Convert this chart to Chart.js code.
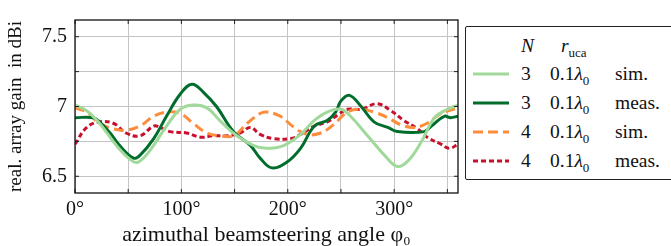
<!DOCTYPE html>
<html>
<head>
<meta charset="utf-8">
<script src="https://cdn.jsdelivr.net/npm/chart.js@4.4.1/dist/chart.umd.min.js"></script>
<style>
  body { margin: 0; background: #fff; font-family: "Liberation Serif", "Times New Roman", serif; }
  #wrap { position: relative; width: 671px; height: 246px; overflow: hidden; }
  #plot { position: absolute; left: 0; top: 0; width: 460px; height: 246px; }
  #legend { position: absolute; left: 465px; top: 26px; width: 220px; height: 154px;
            border: 1.3px solid #222; border-radius: 2px; box-sizing: border-box;
            font-family: "Liberation Serif", "Times New Roman", serif; font-size: 19.5px; color: #111; }
  .row { position: absolute; left: 0; height: 22px; line-height: 22px; }
  .smp { position: absolute; left: 7px; top: 6px; }
  .c1 { position: absolute; left: 55px; }
  .c2 { position: absolute; left: 84px; white-space: nowrap; }
  .c3 { position: absolute; left: 149px; }
  sub { font-size: 13px; }
</style>
</head>
<body>
<div id="wrap">
  <div id="plot"><canvas id="chart"></canvas></div>
  <div id="legend"></div>
</div>
<script>
// angle (deg) / gain (dBi)
const sim3X = [0, 11, 23, 39, 52, 59, 70, 86, 99, 111, 124, 136, 152, 168, 180, 196, 212, 225, 237, 250, 259, 275, 291, 303, 313, 325, 338, 350, 360];
const sim3Y = [7.01, 6.97, 6.88, 6.72, 6.62, 6.60, 6.68, 6.86, 6.98, 7.01, 6.99, 6.90, 6.79, 6.72, 6.70, 6.72, 6.80, 6.90, 6.96, 6.98, 6.93, 6.79, 6.65, 6.57, 6.61, 6.74, 6.92, 6.98, 7.01];

const meas3X = [0, 17, 23, 33, 42, 55, 61, 74, 86, 99, 110, 121, 133, 149, 165, 174, 185, 199, 212, 225, 237, 245, 250, 258, 269, 281, 294, 303, 328, 335, 347, 353, 360];
const meas3Y = [6.92, 6.92, 6.89, 6.81, 6.72, 6.63, 6.65, 6.77, 6.93, 7.09, 7.16, 7.10, 7.00, 6.82, 6.72, 6.63, 6.56, 6.60, 6.70, 6.86, 6.90, 6.96, 7.04, 7.08, 7.00, 6.89, 6.85, 6.82, 6.82, 6.86, 6.93, 6.92, 6.93];

const sim4X = [0, 11, 23, 36, 48, 61, 74, 86, 99, 111, 124, 136, 149, 162, 174, 180, 193, 206, 218, 231, 243, 256, 269, 281, 294, 306, 319, 331, 344, 360];
const sim4Y = [6.99, 6.96, 6.88, 6.84, 6.83, 6.86, 6.93, 6.96, 6.95, 6.88, 6.81, 6.79, 6.79, 6.88, 6.95, 6.96, 6.93, 6.85, 6.80, 6.81, 6.87, 6.96, 6.98, 6.96, 6.92, 6.87, 6.85, 6.88, 6.95, 6.99];

const meas4X = [0, 11, 23, 36, 48, 61, 74, 80, 89, 105, 118, 130, 143, 155, 165, 174, 187, 203, 212, 225, 237, 247, 256, 269, 284, 297, 309, 322, 331, 344, 352, 360];
const meas4Y = [6.73, 6.85, 6.89, 6.88, 6.81, 6.79, 6.86, 6.85, 6.82, 6.81, 6.78, 6.79, 6.79, 6.81, 6.85, 6.80, 6.77, 6.77, 6.80, 6.86, 6.89, 6.94, 6.98, 6.98, 7.02, 6.97, 6.90, 6.84, 6.78, 6.73, 6.70, 6.73];

const xGrid = [0, 50, 100, 150, 200, 250, 300, 350];
const xTicks = [0, 100, 200, 300];
const yGrid = [6.5, 6.75, 7, 7.25, 7.5];
const yTicks = [6.5, 7, 7.5];

const series = [
  { n: '3', kind: 'sim.', x: sim3X, y: sim3Y, color: '#a1d99b', dash: [] },
  { n: '3', kind: 'meas.', x: meas3X, y: meas3Y, color: '#006d2c', dash: [] },
  { n: '4', kind: 'sim.', x: sim4X, y: sim4Y, color: '#fd8d3c', dash: [10, 5] },
  { n: '4', kind: 'meas.', x: meas4X, y: meas4Y, color: '#c8102e', dash: [5, 3] }
];

const serif = '"Liberation Serif", "Times New Roman", serif';

// axis box with small inward tick marks, pgfplots style
const frame = {
  id: 'frame',
  afterDraw(chart) {
    const a = chart.chartArea, c = chart.ctx;
    const sx = chart.scales.x, sy = chart.scales.y;
    c.save();
    c.strokeStyle = '#222';
    c.lineWidth = 1;
    c.beginPath();
    xGrid.forEach(v => {
      const px = sx.getPixelForValue(v);
      c.moveTo(px, a.bottom); c.lineTo(px, a.bottom - 4);
      c.moveTo(px, a.top); c.lineTo(px, a.top + 4);
    });
    yGrid.forEach(v => {
      const py = sy.getPixelForValue(v);
      c.moveTo(a.left, py); c.lineTo(a.left + 4, py);
      c.moveTo(a.right, py); c.lineTo(a.right - 4, py);
    });
    c.stroke();
    c.strokeStyle = '#111';
    c.lineWidth = 1.3;
    c.strokeRect(a.left, a.top, a.right - a.left, a.bottom - a.top);
    c.restore();
  }
};

new Chart(document.getElementById('chart'), {
  type: 'line',
  data: {
    datasets: series.map(s => ({
      label: s.n + ' ' + s.kind,
      data: s.x.map((v, i) => ({ x: v, y: s.y[i] })),
      borderColor: s.color,
      borderWidth: 3,
      borderDash: s.dash,
      pointRadius: 0,
      tension: 0.4,
      fill: false
    }))
  },
  options: {
    responsive: true,
    maintainAspectRatio: false,
    animation: false,
    layout: { padding: { top: 12, right: 2, left: 0, bottom: 0 } },
    plugins: { legend: { display: false }, tooltip: { enabled: false } },
    scales: {
      x: {
        type: 'linear', min: 0, max: 360,
        afterBuildTicks: s => { s.ticks = xGrid.map(v => ({ value: v })); },
        afterFit: s => { s.height = 53; },
        grid: { color: '#c4c4c4', drawTicks: false },
        border: { display: false },
        ticks: {
          padding: 5, color: '#111', maxRotation: 0, autoSkip: false,
          font: { family: serif, size: 20 },
          callback: v => xTicks.includes(v) ? v + '°' : ''
        },
        title: {
          display: true, text: 'azimuthal beamsteering angle φ₀', color: '#111',
          font: { family: serif, size: 22, lineHeight: 1 }, padding: { top: 0, bottom: 0 }
        }
      },
      y: {
        min: 6.38, max: 7.62,
        afterBuildTicks: s => { s.ticks = yGrid.map(v => ({ value: v })); },
        afterFit: s => { s.width = 75; },
        grid: { color: '#c4c4c4', drawTicks: false },
        border: { display: false },
        ticks: {
          padding: 8, color: '#111', autoSkip: false,
          font: { family: serif, size: 20 },
          callback: v => yTicks.includes(v) ? String(v) : ''
        },
        title: {
          display: true, text: 'real. array gain  in dBi', color: '#111',
          font: { family: serif, size: 19, lineHeight: 1 }, padding: { top: 7, bottom: 0 }
        }
      }
    }
  },
  plugins: [frame]
});

// legend as a small table
const lg = document.getElementById('legend');
let html = '<div class="row" style="top:8px"><span class="c1" style="font-style:italic">N</span>' +
  '<span class="c2" style="left:95px"><i>r</i><sub>uca</sub></span></div>';
series.forEach((s, i) => {
  const top = 36 + i * 29;
  const dash = s.dash.length ? ` stroke-dasharray="${s.dash.join(' ')}"` : '';
  html += `<div class="row" style="top:${top}px">` +
    `<svg class="smp" width="36" height="10"><line x1="0" y1="5" x2="36" y2="5" stroke="${s.color}" stroke-width="3"${dash}/></svg>` +
    `<span class="c1">${s.n}</span><span class="c2">0.1<i>λ</i><sub>0</sub></span>` +
    `<span class="c3">${s.kind}</span></div>`;
});
lg.innerHTML = html;
</script>
</body>
</html>
